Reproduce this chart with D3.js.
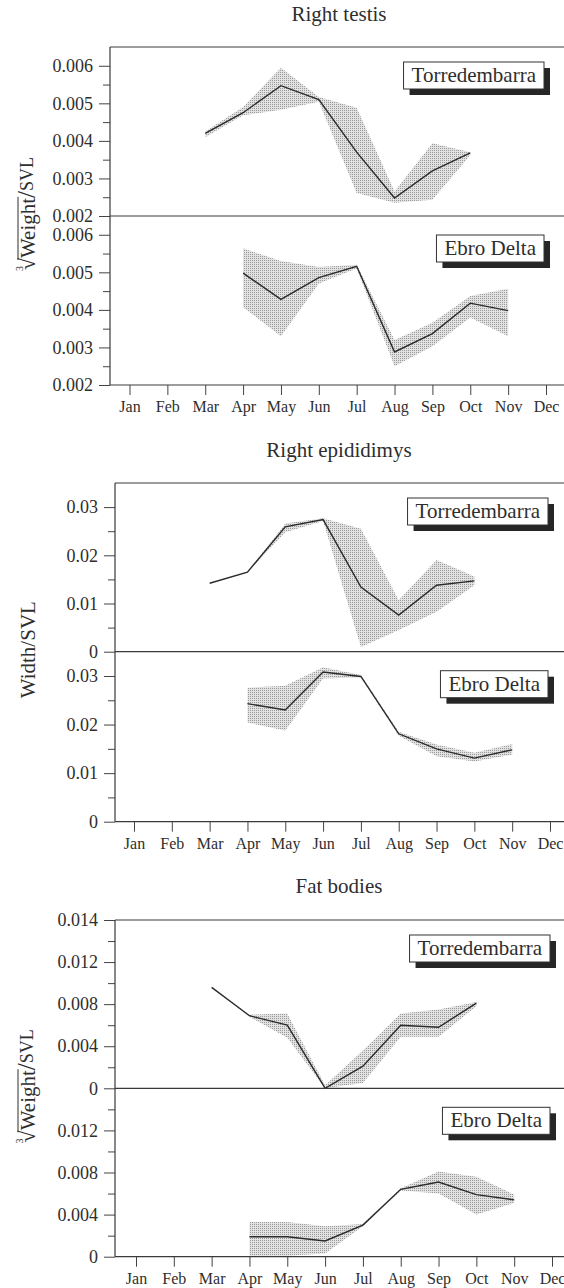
<!DOCTYPE html>
<html>
<head>
<meta charset="utf-8">
<script src="https://cdn.jsdelivr.net/npm/d3@7/dist/d3.min.js"></script>
<style>
  body { margin: 0; background: #fff; }
  svg { display: block; }
  svg text { font-family: "Liberation Serif", "Times New Roman", serif !important; }
</style>
</head>
<body>
<div id="chart"></div>
<script>
const months = ["Jan", "Feb", "Mar", "Apr", "May", "Jun", "Jul", "Aug", "Sep", "Oct", "Nov", "Dec"];
const torrMonths = ["Mar", "Apr", "May", "Jun", "Jul", "Aug", "Sep", "Oct"];
const ebroMonths = ["Apr", "May", "Jun", "Jul", "Aug", "Sep", "Oct", "Nov"];

// Right testis
const testisTorrMean  = [0.0042, 0.00475, 0.00547, 0.0051, 0.0037, 0.00248, 0.0032, 0.00368];
const testisTorrUpper = [0.00425, 0.0049, 0.00595, 0.00517, 0.00488, 0.00265, 0.00394, 0.0037];
const testisTorrLower = [0.0041, 0.00468, 0.00483, 0.00504, 0.00261, 0.00235, 0.00243, 0.00362];
const testisEbroMean  = [0.00498, 0.00428, 0.00486, 0.00516, 0.00288, 0.00337, 0.00418, 0.00398];
const testisEbroUpper = [0.00564, 0.0053, 0.00514, 0.0052, 0.0032, 0.00366, 0.00437, 0.00456];
const testisEbroLower = [0.00407, 0.0033, 0.0047, 0.0051, 0.0025, 0.00303, 0.0038, 0.0033];

// Right epididimys
const epidTorrMean  = [0.0142, 0.0165, 0.0259, 0.0274, 0.0134, 0.0076, 0.0138, 0.0147];
const epidTorrUpper = [0.0142, 0.0165, 0.0266, 0.0277, 0.0255, 0.0107, 0.019, 0.0156];
const epidTorrLower = [0.0142, 0.0165, 0.0248, 0.0271, 0.001, 0.0045, 0.0083, 0.0138];
const epidEbroMean  = [0.0243, 0.023, 0.0308, 0.0299, 0.0181, 0.015, 0.0131, 0.0148];
const epidEbroUpper = [0.0276, 0.028, 0.0318, 0.0302, 0.0185, 0.0159, 0.0142, 0.016];
const epidEbroLower = [0.0204, 0.0188, 0.0295, 0.0297, 0.0177, 0.0135, 0.0124, 0.0138];

// Fat bodies
const fatTorrMean  = [0.0096, 0.0069, 0.006, 0, 0.0021, 0.006, 0.0058, 0.0081];
const fatTorrUpper = [0.0096, 0.007, 0.0071, 0.0003, 0.0036, 0.0071, 0.0075, 0.0082];
const fatTorrLower = [0.0096, 0.0068, 0.0048, 0, 0.0005, 0.0049, 0.0049, 0.0078];
const fatEbroMean  = [0.0019, 0.0019, 0.0015, 0.003, 0.0064, 0.0071, 0.0059, 0.0054];
const fatEbroUpper = [0.0033, 0.0033, 0.0029, 0.0031, 0.0065, 0.0081, 0.0076, 0.0059];
const fatEbroLower = [0.0001, 0.0001, 0.0003, 0.0029, 0.0063, 0.006, 0.004, 0.0051];

// y ticks
const testisTicks = [0.002, 0.003, 0.004, 0.005, 0.006];
const testisTickLabels = ["0.002", "0.003", "0.004", "0.005", "0.006"];
const testisMinor = [0.0025, 0.0035, 0.0045, 0.0055];
const epidTicks = [0, 0.01, 0.02, 0.03];
const epidTickLabels = ["0", "0.01", "0.02", "0.03"];
const epidMinor = [0.005, 0.015, 0.025];
const fatTicksTop = [0, 0.004, 0.008, 0.012, 0.016];
const fatTickLabelsTop = ["0", "0.004", "0.008", "0.012", "0.014"];
const fatTicksBottom = [0, 0.004, 0.008, 0.012];
const fatTickLabelsBottom = ["0", "0.004", "0.008", "0.012"];
const fatMinor = [0.002, 0.006, 0.010, 0.014];

const W = 564, H = 1288;
const ink = "#2e2e2e";

const charts = [
  { title: "Right testis", titleY: 21, left: 110, top: 47, sep: 216, bottom: 385, jan: 129.5, dec: 546,
    domain: [0.002, 0.0065], yTitle: "root",
    panels: [
      { name: "Torredembarra", months: torrMonths, mean: testisTorrMean, upper: testisTorrUpper, lower: testisTorrLower,
        ticks: testisTicks, labels: testisTickLabels, minor: testisMinor },
      { name: "Ebro Delta", months: ebroMonths, mean: testisEbroMean, upper: testisEbroUpper, lower: testisEbroLower,
        ticks: testisTicks, labels: testisTickLabels, minor: testisMinor }
    ] },
  { title: "Right epididimys", titleY: 457, left: 115, top: 483, sep: 651.7, bottom: 821.7, jan: 134, dec: 550,
    domain: [0, 0.035], yTitle: "Width/SVL",
    panels: [
      { name: "Torredembarra", months: torrMonths, mean: epidTorrMean, upper: epidTorrUpper, lower: epidTorrLower,
        ticks: epidTicks, labels: epidTickLabels, minor: epidMinor },
      { name: "Ebro Delta", months: ebroMonths, mean: epidEbroMean, upper: epidEbroUpper, lower: epidEbroLower,
        ticks: epidTicks, labels: epidTickLabels, minor: epidMinor }
    ] },
  { title: "Fat bodies", titleY: 893, left: 115, top: 920, sep: 1088.3, bottom: 1256.7, jan: 136, dec: 552,
    domain: [0, 0.016], yTitle: "root",
    panels: [
      { name: "Torredembarra", months: torrMonths, mean: fatTorrMean, upper: fatTorrUpper, lower: fatTorrLower,
        ticks: fatTicksTop, labels: fatTickLabelsTop, minor: fatMinor },
      { name: "Ebro Delta", months: ebroMonths, mean: fatEbroMean, upper: fatEbroUpper, lower: fatEbroLower,
        ticks: fatTicksBottom, labels: fatTickLabelsBottom, minor: fatMinor }
    ] }
];

const svg = d3.select("#chart").append("svg")
  .attr("width", W)
  .attr("height", H);

// halftone-ish fill for the ranges
const pat = svg.append("defs").append("pattern")
  .attr("id", "dots")
  .attr("patternUnits", "userSpaceOnUse")
  .attr("width", 2).attr("height", 2);
pat.append("rect").attr("width", 2).attr("height", 2).attr("fill", "#e2e2e2");
pat.append("rect").attr("width", 1).attr("height", 1).attr("fill", "#9a9a9a");

charts.forEach(drawChart);

function drawChart(c) {
  const g = svg.append("g");
  const x = d3.scalePoint().domain(months).range([c.jan, c.dec]);
  const yTop = d3.scaleLinear().domain(c.domain).range([c.sep, c.top]);
  const yBot = d3.scaleLinear().domain(c.domain).range([c.bottom, c.sep]);

  g.append("text")
    .attr("x", 339).attr("y", c.titleY)
    .attr("text-anchor", "middle")
    .style("font-size", "21px")
    .attr("fill", ink)
    .text(c.title);

  drawPanel(g, c, c.panels[0], x, yTop, 15);
  drawPanel(g, c, c.panels[1], x, yBot, 19);

  // frame
  [c.top, c.sep, c.bottom].forEach(yy => {
    g.append("line")
      .attr("x1", c.left).attr("x2", W)
      .attr("y1", yy).attr("y2", yy)
      .attr("stroke", "#3a3a3a").attr("stroke-width", 1.2);
  });
  g.append("line")
    .attr("x1", c.left).attr("x2", c.left)
    .attr("y1", c.top).attr("y2", c.bottom)
    .attr("stroke", "#3a3a3a").attr("stroke-width", 1.2);

  // month axis
  const xAxis = g.append("g")
    .attr("transform", `translate(0,${c.bottom})`)
    .call(d3.axisBottom(x).tickSize(10).tickPadding(6));
  xAxis.select(".domain").remove();
  xAxis.selectAll("line").attr("stroke", "#444");
  xAxis.selectAll("text")
    .style("font-size", "16px")
    .attr("fill", ink);

  drawYTitle(g, c);
}

function drawPanel(g, c, p, x, y, legendOffset) {
  const pts = p.months.map((m, i) => ({ m: m, mean: p.mean[i], hi: p.upper[i], lo: p.lower[i] }));

  g.append("path")
    .datum(pts)
    .attr("fill", "url(#dots)")
    .attr("d", d3.area()
      .x(d => x(d.m))
      .y0(d => y(d.lo))
      .y1(d => y(d.hi)));

  g.append("path")
    .datum(pts)
    .attr("fill", "none")
    .attr("stroke", "#2a2a2a")
    .attr("stroke-width", 1.4)
    .attr("d", d3.line()
      .x(d => x(d.m))
      .y(d => y(d.mean)));

  // minor ticks
  const minor = g.append("g")
    .attr("transform", `translate(${c.left},0)`)
    .call(d3.axisLeft(y).tickValues(p.minor).tickSize(7).tickFormat(""));
  minor.select(".domain").remove();
  minor.selectAll("line").attr("stroke", "#444");

  // major ticks
  const major = g.append("g")
    .attr("transform", `translate(${c.left},0)`)
    .call(d3.axisLeft(y).tickValues(p.ticks).tickSize(11).tickPadding(6)
      .tickFormat((d, i) => p.labels[i]));
  major.select(".domain").remove();
  major.selectAll("line").attr("stroke", "#444");
  major.selectAll("text")
    .style("font-size", "18px")
    .attr("fill", ink);

  // legend box with drop shadow
  const boxTop = y.range()[1] + legendOffset;
  const right = c.dec - 2;
  const leg = g.append("g");
  const shadow = leg.append("rect");
  const box = leg.append("rect");
  const txt = leg.append("text")
    .style("font-size", "21px")
    .attr("fill", ink)
    .text(p.name);
  const tw = txt.node().getComputedTextLength();
  const bw = tw + 16, bh = 27;
  const bx = right - bw;
  txt.attr("x", bx + 8).attr("y", boxTop + 20);
  box.attr("x", bx).attr("y", boxTop).attr("width", bw).attr("height", bh)
    .attr("fill", "#fff").attr("stroke", "#333").attr("stroke-width", 1);
  shadow.attr("x", bx + 6).attr("y", boxTop + 6).attr("width", bw).attr("height", bh)
    .attr("fill", "#262626");
}

function drawYTitle(g, c) {
  const cy = c.sep - 2;
  const t = g.append("g").attr("transform", `translate(35,${cy}) rotate(-90)`);
  if (c.yTitle !== "root") {
    t.append("text")
      .attr("text-anchor", "middle")
      .style("font-size", "21px")
      .attr("fill", ink)
      .text(c.yTitle);
    return;
  }
  // cube root of Weight over SVL
  const parts = [
    { s: "3", size: 10, dy: -12 },
    { s: "\u221A", size: 22, dy: 0 },
    { s: "Weight", size: 21, dy: 0, over: true },
    { s: "/", size: 25, dy: 0 },
    { s: "SVL", size: 18, dy: -2 }
  ];
  let pos = 0;
  const made = parts.map(pt => {
    const el = t.append("text")
      .style("font-size", pt.size + "px")
      .attr("fill", ink)
      .attr("y", pt.dy)
      .text(pt.s);
    const w = el.node().getComputedTextLength();
    const o = { el: el, x: pos, w: w, pt: pt };
    pos += w + (pt.s === "3" ? -4 : 0);
    return o;
  });
  const shift = -pos / 2;
  made.forEach(o => {
    o.el.attr("x", o.x + shift);
    if (o.pt.over) {
      t.append("line")
        .attr("x1", o.x + shift - 2).attr("x2", o.x + shift + o.w + 1)
        .attr("y1", -17).attr("y2", -17)
        .attr("stroke", ink).attr("stroke-width", 1);
    }
  });
}
</script>
</body>
</html>
